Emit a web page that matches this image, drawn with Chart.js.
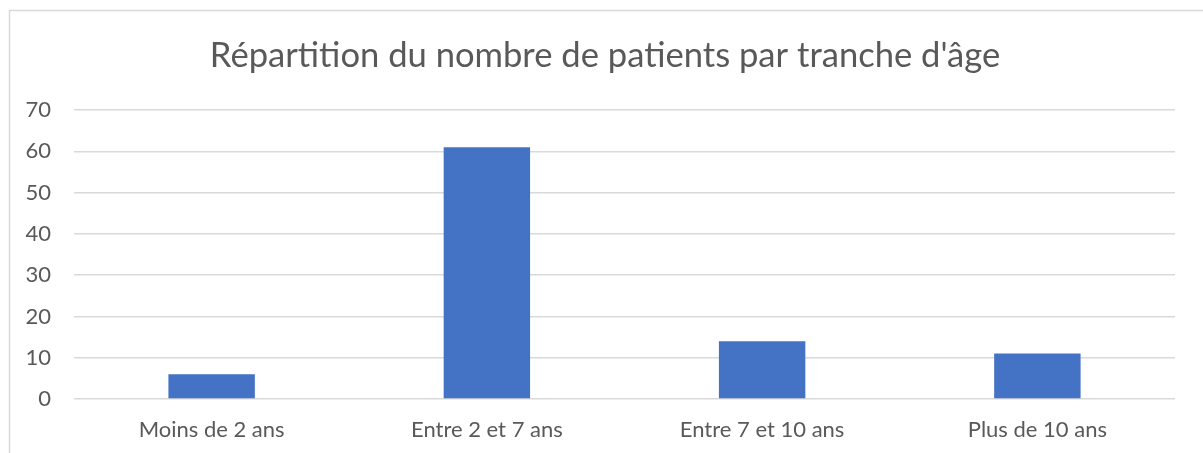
<!DOCTYPE html>
<html>
<head>
<meta charset="utf-8">
<script src="https://cdn.jsdelivr.net/npm/chart.js@4"></script>
<style>
  html, body { margin: 0; padding: 0; background: #fff; }
  #wrap { width: 1203px; height: 453px; position: relative; }
</style>
</head>
<body>
<div id="wrap"><canvas id="ageChart"></canvas></div>
<script>
var categories = ['Moins de 2 ans', 'Entre 2 et 7 ans', 'Entre 7 et 10 ans', 'Plus de 10 ans'];
var patients = [6, 61, 14, 11];
var yTicks = [0, 10, 20, 30, 40, 50, 60, 70];

var textColor = '#595959';
var gridColor = '#d9d9d9';

// outer frame of the chart object
var frame = {
    id: 'frame',
    beforeDraw: function (chart) {
        var c = chart.ctx;
        c.save();
        c.fillStyle = '#fff';
        c.fillRect(0, 0, chart.width, chart.height);
        c.strokeStyle = gridColor;
        c.lineWidth = 1.5;
        c.strokeRect(9.5, 10.5, chart.width + 20, chart.height + 20);
        c.restore();
    }
};

var ctx = document.getElementById('ageChart').getContext('2d');
var ageChart = new Chart(ctx, {
    type: 'bar',
    data: {
        labels: categories,
        datasets: [{
            label: 'Patients',
            data: patients,
            backgroundColor: '#4472c4',
            barPercentage: 0.314,
            categoryPercentage: 1
        }]
    },
    options: {
        responsive: true,
        maintainAspectRatio: false,
        animation: false,
        layout: { padding: { left: 7, right: 0, top: 0, bottom: 0 } },
        plugins: {
            legend: { display: false },
            tooltip: { enabled: false },
            title: {
                display: true,
                text: "Répartition du nombre de patients par tranche d'âge",
                color: textColor,
                font: { family: 'Lato', size: 34.6, weight: 'normal', lineHeight: 1.2 },
                padding: { top: 35, bottom: 33.5 }
            }
        },
        scales: {
            x: {
                grid: { display: false, drawTicks: false },
                border: { display: false },
                ticks: {
                    color: textColor,
                    font: { family: 'Lato', size: 22 },
                    padding: 18,
                    maxRotation: 0
                },
                afterFit: function (s) { s.height = 54; }
            },
            y: {
                min: 0,
                max: 70,
                afterBuildTicks: function (s) {
                    s.ticks = yTicks.map(function (v) { return { value: v }; });
                },
                grid: { color: gridColor, lineWidth: 1.5, drawTicks: false },
                border: { display: false },
                ticks: {
                    color: textColor,
                    font: { family: 'Lato', size: 22 },
                    padding: 23
                },
                afterFit: function (s) { s.width = 67; }
            },
            // empty axis keeping the right margin so the title stays centred on the frame
            spacer: {
                type: 'linear',
                position: 'right',
                grid: { display: false, drawTicks: false },
                border: { display: false },
                ticks: { display: false },
                afterFit: function (s) { s.width = 28; }
            }
        }
    },
    plugins: [frame]
});
</script>
</body>
</html>
